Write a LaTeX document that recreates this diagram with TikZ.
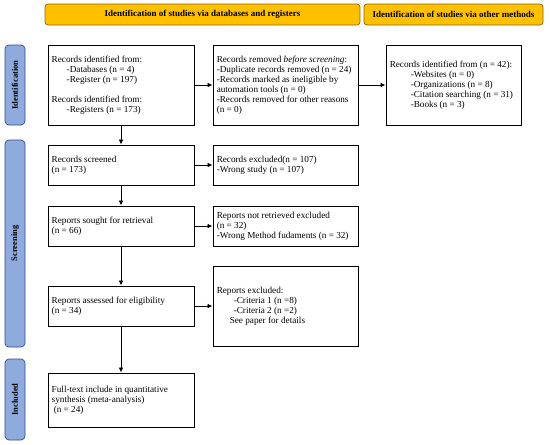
\documentclass[tikz,border=0pt]{standalone}
\usepackage{fontspec}
\setmainfont{Liberation Serif}
\usetikzlibrary{arrows.meta}
\definecolor{hdrfill}{HTML}{FFC000}
\definecolor{hdrdraw}{HTML}{8C6A00}
\definecolor{barfill}{HTML}{8FAADC}
\definecolor{bardraw}{HTML}{2F4F8F}
\begin{document}
\begin{tikzpicture}[x=1pt,y=-1pt,
  box/.style={draw=black, line width=0.9pt, inner sep=0pt},
  txt/.style={anchor=west, align=left, inner sep=0pt, font=\fontsize{9.2}{10.1}\selectfont},
  hdr/.style={draw=hdrdraw, fill=hdrfill, rounded corners=3pt, line width=0.7pt, minimum height=21pt, inner sep=0pt, font=\fontsize{9}{10}\selectfont\bfseries},
  sidebar/.style={draw=bardraw, fill=barfill, rounded corners=4pt, line width=0.7pt, rotate=90, minimum height=20pt, inner sep=0pt, font=\fontsize{8.5}{9}\selectfont\bfseries},
  arr/.style={-{Latex[length=5pt,width=4.5pt]}, line width=0.8pt}
]
\useasboundingbox (0,0) rectangle (550,445);
% headers
\node[hdr, minimum width=315pt] (h1) at (202.5,14.5) {Identification of studies via databases and registers};
\node[hdr, minimum width=179pt] (h2) at (453.5,14.5) {Identification of studies via other methods};
% side bars
\node[sidebar, minimum width=80pt] (s1) at (15,85) {Identification};
\node[sidebar, minimum width=207pt] (s2) at (15,243.5) {Screening};
\node[sidebar, minimum width=81pt] (s3) at (15,399.5) {Included};
% boxes
\node[box, minimum width=146pt, minimum height=80pt] (b1) at (121,85) {};
\node[box, minimum width=145pt, minimum height=80pt] (b2) at (285.5,85) {};
\node[box, minimum width=135pt, minimum height=80pt] (b3) at (453.5,85) {};
\node[box, minimum width=146pt, minimum height=40pt] (b4) at (121,165) {};
\node[box, minimum width=145pt, minimum height=40pt] (b5) at (285.5,165) {};
\node[box, minimum width=146pt, minimum height=40pt] (b6) at (121,226) {};
\node[box, minimum width=145pt, minimum height=40pt] (b7) at (285.5,226) {};
\node[box, minimum width=146pt, minimum height=40pt] (b8) at (121,306) {};
\node[box, minimum width=145pt, minimum height=80pt] (b9) at (285.5,306) {};
\node[box, minimum width=146pt, minimum height=54pt] (b10) at (121,400) {};
% texts
\node[txt] (t1) at ([xshift=4pt]b1.west) {Records identified from:\\
\hspace*{15pt}-Databases (n = 4)\\
\hspace*{15pt}-Register (n = 197)\\[10.1pt]
Records identified from:\\
\hspace*{15pt}-Registers (n = 173)};
\node[txt] (t2) at ([xshift=4pt]b2.west) {Records removed \textit{before screening}:\\
-Duplicate records removed (n = 24)\\
-Records marked as ineligible by\\
automation tools (n = 0)\\
-Records removed for other reasons\\
(n = 0)};
\node[txt] (t3) at ([xshift=4pt]b3.west) {Records identified from (n = 42):\\
\hspace*{21pt}-Websites (n = 0)\\
\hspace*{21pt}-Organizations (n = 8)\\
\hspace*{21pt}-Citation searching (n = 31)\\
\hspace*{21pt}-Books (n = 3)};
\node[txt] (t4) at ([xshift=4pt]b4.west) {Records screened\\(n = 173)};
\node[txt] (t5) at ([xshift=4pt]b5.west) {Records excluded(n = 107)\\-Wrong study (n = 107)};
\node[txt] (t6) at ([xshift=4pt]b6.west) {Reports sought for retrieval\\(n = 66)};
\node[txt] (t7) at ([xshift=4pt]b7.west) {Reports not retrieved excluded\\(n = 32)\\-Wrong Method fudaments (n = 32)};
\node[txt] (t8) at ([xshift=4pt]b8.west) {Reports assessed for eligibility\\(n = 34)};
\node[txt] (t9) at ([xshift=4pt]b9.west) {Reports excluded:\\
\hspace*{17pt}-Criteria 1 (n =8)\\
\hspace*{17pt}-Criteria 2 (n =2)\\
\hspace*{13pt}See paper for details};
\node[txt] (t10) at ([xshift=4pt]b10.west) {Full-text include in quantitative\\synthesis (meta-analysis)\\\hspace*{2pt}(n = 24)};
% arrows
\draw[arr] (b1) -- (b2);
\draw[arr] (b2) -- (b3);
\draw[arr] (b1) -- (b4);
\draw[arr] (b4) -- (b5);
\draw[arr] (b4) -- (b6);
\draw[arr] (b6) -- (b7);
\draw[arr] (b6) -- (b8);
\draw[arr] (b8) -- (b9);
\draw[arr] (b8) -- (b10);
\end{tikzpicture}
\end{document}
